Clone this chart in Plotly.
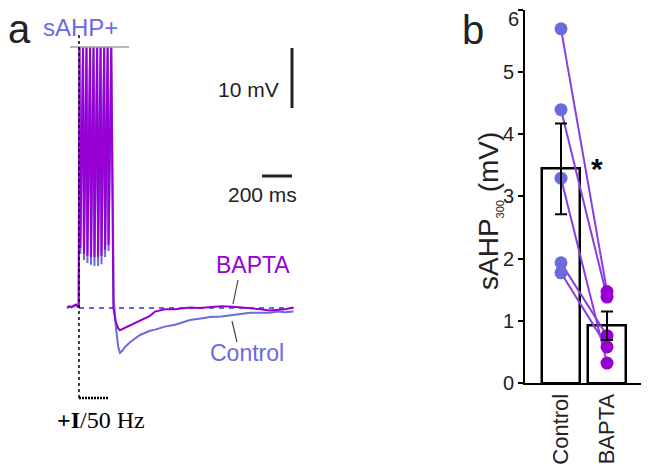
import plotly.graph_objects as go

# ---------------- Panel b data ----------------
categories = ["Control", "BAPTA"]
bar_means = [3.44, 0.92]
bar_errors = [0.73, 0.23]
control_values = [5.69, 4.39, 3.29, 1.93, 1.77]
bapta_values = [1.47, 1.38, 0.32, 0.76, 0.58]
yticks_b = [0, 1, 2, 3, 4, 5, 6]

# ---------------- Panel a data (time in ms from stimulus onset, voltage in mV from rest) ----------------
pre_t = [-80, -65, -50, -35, -20, -8, -2]
pre_bapta = [0.1, 0.3, 0.2, 0.4, 0.6, 0.3, 0.2]
pre_control = [0.0, 0.2, 0.1, 0.3, 0.4, 0.2, 0.1]

spike_t = [3, 27, 50, 74, 97, 121, 144, 168, 191, 215]
spike_peak = [43.5, 43.5, 43.5, 43.5, 43.5, 43.5, 43.5, 43.5, 43.5, 43.5]
trough_t = [9, 33, 56, 80, 103, 127, 150, 174, 197]
trough_bapta = [10.0, 9.0, 8.7, 8.5, 8.5, 8.5, 8.7, 9.7, 10.5]
trough_control = [9.0, 8.0, 7.5, 7.2, 7.0, 7.0, 7.3, 8.5, 9.5]

ahp_t_bapta = [229, 245, 262, 273, 290, 307, 340, 407, 473, 507, 540, 573, 640, 693,
               740, 800, 873, 950, 1027, 1090, 1140, 1210, 1273, 1330, 1373, 1430]
ahp_bapta = [0.0, -2.3, -3.4, -3.7, -3.5, -3.2, -2.8, -2.0, -1.3, -0.6, -0.4, -0.2, -0.2, 0.0,
             0.1, 0.0, 0.2, 0.3, 0.2, 0.1, 0.0, -0.2, -0.4, -0.3, -0.2, 0.1]
ahp_t_control = [232, 247, 262, 273, 290, 307, 340, 407, 473, 507, 540, 573, 640, 693,
                 740, 800, 873, 950, 1027, 1090, 1140, 1210, 1273, 1330, 1373, 1430]
ahp_control = [1.5, -3.5, -6.5, -7.5, -7.1, -6.5, -5.7, -4.5, -3.8, -3.6, -3.3, -3.1, -2.8, -2.4,
               -2.0, -1.8, -1.5, -1.4, -1.2, -1.0, -0.8, -0.8, -0.8, -0.6, -0.7, -0.6]

C_BAPTA = "#9600d2"
C_CTRL = "#6b6bdd"
C_LINK = "#8a3ee0"

# The page places the figure 8 px from the window's top-left corner.
OX, OY = 8, 8
W, H = 649 - OX, 468 - OY

# screen-pixel scale of panel a
T_PER_PX = 200 / 30.0
MV_PER_PX = 10 / 60.0
X0_PX, Y0_PX = 79, 308   # screen px of stimulus onset / resting level


def build_trace(troughs, ahp_t, ahp_v, pre_v):
    t = list(pre_t)
    v = list(pre_v)
    for i in range(len(spike_t)):
        t.append(spike_t[i]); v.append(spike_peak[i])
        if i < len(trough_t):
            t.append(trough_t[i]); v.append(troughs[i])
    t += ahp_t
    v += ahp_v
    return t, v


def P(xp, yp):
    """screen px -> paper fraction"""
    return (xp - OX) / W, 1 - (yp - OY) / H


def dx(xp):
    return (xp - X0_PX) * T_PER_PX


def dy(yp):
    return (Y0_PX - yp) * MV_PER_PX


fig = go.Figure()

# baseline dashed
fig.add_trace(go.Scatter(x=[0, 1430], y=[0, 0], mode="lines", xaxis="x", yaxis="y",
                         line=dict(color="#2f2fe6", width=1.5, dash="5px,5px"), hoverinfo="skip"))

tc, vc = build_trace(trough_control, ahp_t_control, ahp_control, pre_control)
fig.add_trace(go.Scatter(x=tc, y=vc, mode="lines", xaxis="x", yaxis="y",
                         line=dict(color=C_CTRL, width=2)))
tb, vb = build_trace(trough_bapta, ahp_t_bapta, ahp_bapta, pre_bapta)
fig.add_trace(go.Scatter(x=tb, y=vb, mode="lines", xaxis="x", yaxis="y",
                         line=dict(color=C_BAPTA, width=2)))

# ---------------- Panel b ----------------
fig.add_trace(go.Bar(x=[0, 1], y=bar_means, width=0.83, xaxis="x2", yaxis="y2",
                     marker=dict(color="white", line=dict(color="black", width=2.5))))
for c, b in zip(control_values, bapta_values):
    fig.add_trace(go.Scatter(x=[0, 1], y=[c, b], mode="lines", xaxis="x2", yaxis="y2",
                             line=dict(color=C_LINK, width=2)))
fig.add_trace(go.Scatter(x=[0] * len(control_values), y=control_values, mode="markers",
                         xaxis="x2", yaxis="y2", marker=dict(color=C_CTRL, size=13)))
fig.add_trace(go.Scatter(x=[1] * len(bapta_values), y=bapta_values, mode="markers",
                         xaxis="x2", yaxis="y2", marker=dict(color=C_BAPTA, size=13)))
fig.add_trace(go.Scatter(x=[0, 1], y=bar_means, mode="markers", xaxis="x2", yaxis="y2",
                         marker=dict(size=1, opacity=0),
                         error_y=dict(type="data", array=bar_errors, color="black",
                                      thickness=2, width=6)))

xr0 = dx(OX)
xr1 = dx(649)
yr0 = dy(468)
yr1 = dy(OY)

shapes = []
shapes.append(dict(type="line", xref="x", yref="y", x0=dx(70), x1=dx(129), y0=dy(47), y1=dy(47),
                   line=dict(color="#a0a0a0", width=1.5)))
shapes.append(dict(type="line", xref="x", yref="y", x0=0, x1=0, y0=dy(398), y1=dy(33),
                   line=dict(color="black", width=1.5, dash="dot")))
shapes.append(dict(type="line", xref="x", yref="y", x0=0, x1=dx(108), y0=dy(398), y1=dy(398),
                   line=dict(color="black", width=2.5, dash="2px,1px")))
# scale bars
shapes.append(dict(type="line", xref="x", yref="y", x0=dx(292), x1=dx(292), y0=dy(108), y1=dy(48),
                   line=dict(color="#222", width=3)))
shapes.append(dict(type="line", xref="x", yref="y", x0=dx(262), x1=dx(292), y0=dy(176), y1=dy(176),
                   line=dict(color="#222", width=3)))
# leader lines
for (a, b, c, d) in [(238, 280, 233, 304), (232, 321, 237, 342)]:
    x0, y0 = P(a, b)
    x1, y1 = P(c, d)
    shapes.append(dict(type="line", xref="paper", yref="paper", x0=x0, y0=y0, x1=x1, y1=y1,
                       line=dict(color="#444", width=1.2)))

SANS = "Liberation Sans, Arial, sans-serif"
annotations = []


def ann(text, xp, yp, size, color="#222", family=SANS, angle=0):
    x, y = P(xp, yp)
    annotations.append(dict(text=text, x=x, y=y, xref="paper", yref="paper", showarrow=False,
                            xanchor="center", yanchor="middle", textangle=angle,
                            font=dict(size=size, color=color, family=family)))


ann("a", 19, 29, 40)
ann("sAHP+", 80, 28, 24, color="#6a6ae6")
ann("10 mV", 248, 90, 21)
ann("200 ms", 262, 194, 21)
ann("BAPTA", 253, 265, 23, color=C_BAPTA)
ann("Control", 247, 353, 23, color=C_CTRL)
ann("<b>+I</b>/50 Hz", 101, 420, 24, color="black", family="Liberation Serif, Times New Roman, serif")
ann("b", 473, 30, 40)
ann("sAHP<sub><span style='font-size:11px'>300</span></sub> (mV)", 489, 211, 28, angle=-90)
ann("<b>*</b>", 597, 168, 30, color="black")
# top tick label of panel b, drawn just below its tick so it stays inside the page
ann(str(yticks_b[-1]), 513, 19, 20)

tick_text_b = [str(v) for v in yticks_b[:-1]] + [""]

Y2_0, Y2_6 = 383, 9.5
fig.update_layout(
    width=W, height=H, margin=dict(l=0, r=0, t=0, b=0, pad=0),
    paper_bgcolor="white", plot_bgcolor="rgba(0,0,0,0)",
    showlegend=False, bargap=0,
    xaxis=dict(domain=[0, 1], range=[xr0, xr1], visible=False, fixedrange=True, automargin=False),
    yaxis=dict(domain=[0, 1], range=[yr0, yr1], visible=False, fixedrange=True, automargin=False),
    xaxis2=dict(domain=[P(525, 0)[0], P(648, 0)[0]], range=[-0.783, 1.891], anchor="y2",
                tickmode="array", tickvals=[0, 1], ticktext=categories, tickangle=-90,
                showline=True, linecolor="black", linewidth=2, ticks="", showgrid=False,
                zeroline=False, automargin=False, ticklabeloverflow="allow",
                tickfont=dict(size=22, color="#222", family=SANS)),
    yaxis2=dict(domain=[P(0, Y2_0)[1], P(0, Y2_6)[1]], range=[0, 6], anchor="x2",
                tickmode="array", tickvals=yticks_b, ticktext=tick_text_b,
                showline=True, linecolor="black", linewidth=2, ticks="outside",
                ticklen=5, tickwidth=2, tickcolor="black", showgrid=False, zeroline=False,
                automargin=False, ticklabeloverflow="allow",
                tickfont=dict(size=20, color="#222", family=SANS)),
    shapes=shapes, annotations=annotations,
)

fig.write_html("out.html")
